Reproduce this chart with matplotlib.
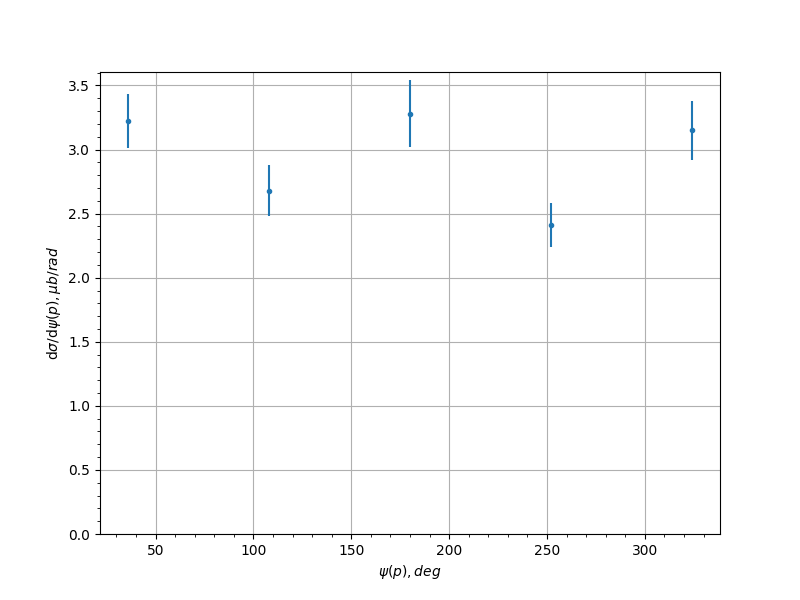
import matplotlib
matplotlib.use('Agg')
import matplotlib.pyplot as plt

# psi(p) bin centers, deg
psi = [36, 108, 180, 252, 324]
# cross section and errors, mub/rad
dsigma = [3.22, 2.68, 3.28, 2.41, 3.15]
errors = [0.21, 0.20, 0.26, 0.17, 0.23]

fig, ax = plt.subplots(figsize=(8, 6), dpi=100)
ax.errorbar(psi, dsigma, yerr=errors, fmt='.')
ax.set_ylim(bottom=0)
ax.minorticks_on()
ax.grid(which='major')
ax.set_xlabel(r'$\psi(p), deg$')
ax.set_ylabel(r'$\mathrm{d}\sigma/\mathrm{d}\psi(p), \mu b/rad$')

fig.savefig('out.png')
